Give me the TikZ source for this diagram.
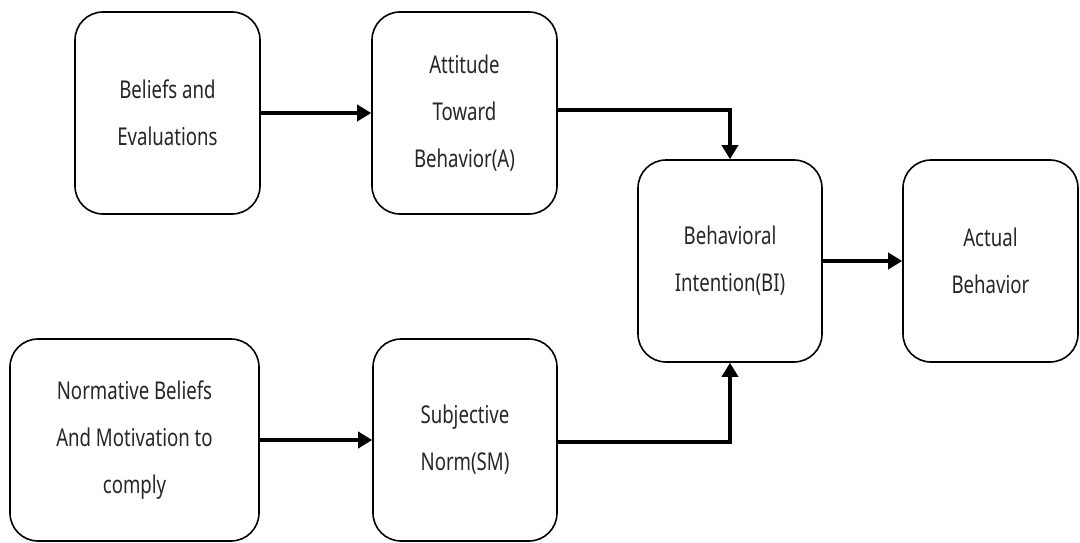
\documentclass[tikz,border=0pt]{standalone}
\usepackage{fontspec}
\setmainfont[FakeStretch=0.76]{Noto Sans}
\usetikzlibrary{arrows.meta}
\tikzset{
  box/.style={draw=black, line width=1.6pt, rounded corners=28pt, fill=white,
    align=center, inner sep=0pt, text=black!85,
    font=\fontsize{24.5}{47}\selectfont},
  flow/.style={line width=4.4pt, -{Triangle[length=14pt,width=16pt]}}
}
\begin{document}
\begin{tikzpicture}[x=1pt,y=-1pt]
\useasboundingbox[fill=white] (0,0) rectangle (1080,543);
\node[box, minimum width=185pt, minimum height=202pt] (be) at (167.5,113) {Beliefs and\\Evaluations};
\node[box, minimum width=185pt, minimum height=202pt] (at) at (464.5,113) {Attitude\\Toward\\Behavior(A)};
\node[box, minimum width=184pt, minimum height=202pt] (bi) at (730,261) {Behavioral\\Intention(BI)};
\node[box, minimum width=175pt, minimum height=202pt] (ab) at (990.5,261) {Actual\\Behavior};
\node[box, minimum width=249pt, minimum height=202pt] (nb) at (134.5,440) {Normative Beliefs\\And Motivation to\\comply};
\node[box, minimum width=184pt, minimum height=202pt] (sn) at (465,440) {Subjective\\Norm(SM)};
\draw[flow] (be.east) -- (at.west);
\draw[flow] (at.east |- 0,110) -| (bi.north);
\draw[flow] (sn.east |- 0,442) -| (bi.south);
\draw[flow] (bi.east) -- (ab.west);
\draw[flow] (nb.east) -- (sn.west);
\end{tikzpicture}
\end{document}
